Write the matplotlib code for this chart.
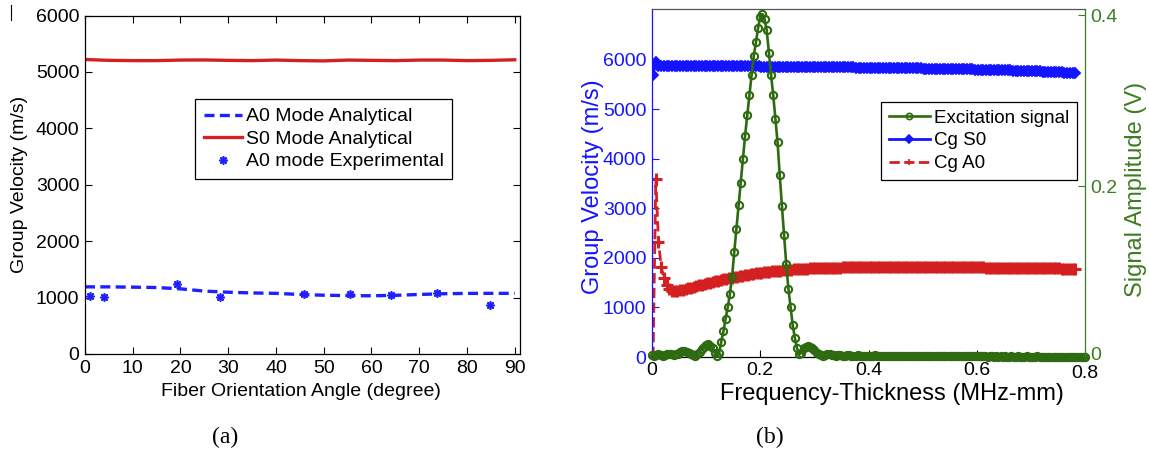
import numpy as np
import matplotlib
matplotlib.use("Agg")
import matplotlib.pyplot as plt
from matplotlib.lines import Line2D
from matplotlib.transforms import ScaledTranslation

plt.rcParams['font.family'] = ['Liberation Sans', 'DejaVu Sans']

# ---------------- Panel (a) data ----------------
angle_grid = [0, 5, 10, 15, 20, 25, 30, 35, 40, 45, 50, 55, 60, 65, 70, 75, 80, 85, 90]
s0_analytical = [5220, 5205, 5200, 5200, 5210, 5212, 5205, 5200, 5210, 5200,
                 5195, 5210, 5205, 5200, 5210, 5210, 5200, 5205, 5215]
a0_analytical = [1190, 1190, 1185, 1178, 1155, 1115, 1095, 1082, 1075, 1055,
                 1042, 1035, 1032, 1040, 1055, 1068, 1074, 1075, 1075]
exp_angle = [1.0, 3.9, 19.2, 28.3, 45.9, 55.5, 64.0, 73.8, 84.9]
exp_a0 = [1027, 1010, 1248, 1015, 1065, 1062, 1040, 1074, 867]

# ---------------- Panel (b) data ----------------
fd_step_vel = 0.005          # sampling step of the dispersion curves (MHz-mm)
fd_start_vel = 0.002
cg_s0 = [5700, 5965, 5885,
         5884, 5884, 5883, 5883, 5882, 5882, 5881, 5881, 5880, 5880, 5879, 5879, 5878, 5878, 5877, 5877, 5876,
         5875, 5875, 5874, 5874, 5873, 5873, 5872, 5872, 5871, 5871, 5870, 5870, 5869, 5869, 5868, 5868, 5867, 5867, 5866, 5866,
         5865, 5865, 5864, 5864, 5863, 5863, 5862, 5862, 5861, 5861, 5860, 5860, 5859, 5859, 5858, 5858, 5857, 5857, 5856, 5856,
         5855, 5854, 5854, 5853, 5852, 5851, 5851, 5850, 5849, 5848, 5848, 5847, 5846, 5846, 5845, 5844, 5844, 5843, 5842, 5842,
         5841, 5840, 5839, 5838, 5838, 5837, 5836, 5835, 5834, 5833, 5833, 5832, 5831, 5830, 5829, 5828, 5828, 5827, 5826, 5825,
         5824, 5823, 5822, 5821, 5820, 5819, 5818, 5817, 5816, 5815, 5814, 5813, 5812, 5811, 5810, 5809, 5808, 5806, 5805, 5804,
         5803, 5801, 5800, 5798, 5797, 5795, 5794, 5792, 5791, 5789, 5788, 5786, 5785, 5783, 5782, 5780, 5779, 5777, 5776, 5775,
         5773, 5771, 5768, 5766, 5763, 5761, 5758, 5756, 5753, 5751, 5748, 5746, 5743, 5741, 5739, 5737, 5735]
cg_a0 = [0, 3600, 2330, 1825, 1590, 1455, 1380, 1342, 1330, 1335,
         1347, 1360, 1374, 1388, 1402, 1416, 1430, 1444, 1458, 1472,
         1486, 1500, 1514, 1527, 1540, 1553, 1566, 1578, 1590, 1602,
         1613, 1624, 1635, 1645, 1655, 1664, 1673, 1681, 1689, 1697,
         1704, 1711, 1717, 1723, 1729, 1735, 1740, 1745, 1750, 1755,
         1759, 1764, 1768, 1772, 1775, 1778, 1781, 1784, 1787, 1789,
         1791, 1793, 1795, 1797, 1799, 1801, 1803, 1804, 1805, 1806,
         1807, 1808, 1809, 1810, 1811, 1812, 1813, 1813, 1814, 1814,
         1815, 1815, 1815, 1816, 1816, 1816, 1816, 1816, 1816, 1816,
         1816, 1816, 1816, 1815, 1815, 1815, 1815, 1815, 1815, 1815,
         1814, 1814, 1814, 1814, 1813, 1813, 1813, 1813, 1812, 1812,
         1812, 1811, 1811, 1811, 1810, 1810, 1810, 1809, 1809, 1808,
         1808, 1807, 1807, 1806, 1806, 1805, 1805, 1804, 1804, 1803,
         1802, 1802, 1801, 1800, 1800, 1799, 1798, 1797, 1797, 1796,
         1795, 1794, 1794, 1793, 1792, 1791, 1790, 1790, 1789, 1788,
         1787, 1786, 1785, 1784, 1783, 1782, 1781]

fd_step_exc = 0.004          # sampling step of the excitation spectrum
excitation = [
    0.002, 0.001, 0.002, 0.003, 0.002, 0.001, 0.002, 0.003, 0.003, 0.003,
    0.002, 0.003, 0.004, 0.006, 0.007, 0.007, 0.006, 0.005, 0.004, 0.002,
    0.001, 0.003, 0.006, 0.009, 0.012, 0.014, 0.015, 0.013, 0.010, 0.005,
    0.001, 0.005, 0.018, 0.030, 0.045, 0.058, 0.074, 0.094, 0.123, 0.150,
    0.178, 0.204, 0.232, 0.259, 0.283, 0.307, 0.330, 0.352, 0.368, 0.385,
    0.398, 0.401, 0.395, 0.382, 0.356, 0.330, 0.306, 0.278, 0.251, 0.213,
    0.177, 0.143, 0.109, 0.080, 0.058, 0.037, 0.022, 0.010, 0.003, 0.005,
    0.010, 0.012, 0.013, 0.012, 0.010, 0.008, 0.005, 0.003, 0.002, 0.001,
    0.002, 0.003, 0.003, 0.002, 0.002, 0.001, 0.002, 0.002, 0.001, 0.001,
    0.002, 0.002, 0.001, 0.001, 0.001, 0.002, 0.001, 0.001, 0.001, 0.001,
    0.001, 0.001, 0.001, 0.002, 0.001, 0.001, 0.001, 0.001, 0.001, 0.001,
    0.001, 0.001, 0.001, 0.001, 0.001, 0.001, 0.001, 0.001, 0.001, 0.001,
    0.001, 0.001, 0.001, 0.001, 0.001, 0.001, 0.001, 0.001, 0.001, 0.001,
    0.001, 0.001, 0.001, 0.001, 0.001, 0.001, 0.001, 0.001, 0.001, 0.001,
    0.001, 0.001, 0.001, 0.001, 0.001, 0.001, 0.001, 0.001, 0.001, 0.001,
    0.001, 0.001, 0.001, 0.001, 0.001, 0.000, 0.001, 0.001, 0.000, 0.001,
    0.000, 0.001, 0.000, 0.001, 0.000, 0.000, 0.001, 0.000, 0.000, 0.001,
    0.000, 0.000, 0.000, 0.001, 0.000, 0.000, 0.000, 0.000, 0.001, 0.000,
    0.000, 0.000, 0.000, 0.000, 0.000, 0.000, 0.000, 0.000, 0.000, 0.000,
    0.000, 0.000, 0.000, 0.000, 0.000, 0.000, 0.000, 0.000, 0.000, 0.000,
    0.000]

fd_vel = fd_start_vel + fd_step_vel * np.arange(len(cg_s0))
fd_exc = fd_step_exc * np.arange(len(excitation))

# ---------------- styling ----------------
W, H = 1149, 458
fig = plt.figure(figsize=(W / 100, H / 100), dpi=100)

def px_axes(x0, y0, x1, y1):
    return [x0 / W, 1 - y1 / H, (x1 - x0) / W, (y1 - y0) / H]

RED = '#d42020'
BLUE_A = '#1f1fff'
BLUE_B = '#1414ff'
GREEN = '#2e6a10'
GREEN_AX = '#3d7d20'

# ---------------- Panel (a) ----------------
axa = fig.add_axes(px_axes(85, 15.5, 519.5, 354))
axa.plot(angle_grid, a0_analytical, color=BLUE_A, lw=2.4, linestyle=(0, (3, 1.6)),
         label='A0 Mode Analytical')
axa.plot(angle_grid, s0_analytical, color=RED, lw=2.4, label='S0 Mode Analytical')
axa.plot(exp_angle, exp_a0, linestyle='none', marker=(8, 2, 0), ms=6, mew=1.2,
         color=BLUE_A, label='A0 mode Experimental')
axa.set_xlim(0, 91)
axa.set_ylim(0, 6000)
axa.set_xticks(range(0, 91, 10))
axa.set_yticks(range(0, 6001, 1000))
axa.tick_params(direction='in', length=5, width=0.8, top=True, right=True,
                labelsize=14, pad=4)
for s in axa.spines.values():
    s.set_linewidth(0.9)
axa.set_xlabel('Fiber Orientation Angle (degree)', fontsize=14)
axa.set_ylabel('Group Velocity (m/s)', fontsize=14)
axa.xaxis.label.set_va('center')
axa.xaxis.set_label_coords(0.497, -0.112)
axa.yaxis.label.set_va('center')
axa.yaxis.set_label_coords(-0.150, 0.502)
axa.legend(loc='upper left', bbox_to_anchor=(195 / W, 1 - 99 / H),
           bbox_transform=fig.transFigure, borderaxespad=0, fontsize=14,
           handlelength=1.95, handletextpad=0.2, borderpad=0.45, labelspacing=0.25,
           fancybox=False, edgecolor='black', framealpha=1).get_frame().set_linewidth(0.9)

# ---------------- Panel (b) ----------------
axb = fig.add_axes(px_axes(652, 9.3, 1085, 357))
axb.plot(fd_vel, cg_a0, color=RED, linestyle='--', lw=2.0, marker='+', ms=8, mew=2.2,
         label='Cg A0')
axb.plot(fd_vel, cg_s0, color=BLUE_B, lw=2.0, marker='D', ms=5.0, mew=1.3, mfc=BLUE_B,
         label='Cg S0')
axb.set_xlim(0, 0.8)
axb.set_ylim(0, 7020)
axb.set_xticks([0, 0.2, 0.4, 0.6, 0.8])
axb.set_xticklabels(['0', '0.2', '0.4', '0.6', '0.8'])
axb.set_yticks(range(0, 6001, 1000))
axb.tick_params(axis='x', direction='in', length=5, width=0.8, labelsize=14, pad=3.5)
axb.tick_params(axis='y', direction='in', length=5, width=0.8, labelsize=14, pad=4,
                colors=BLUE_B, right=True)
axb.spines['left'].set_color(BLUE_B)
axb.spines['right'].set_visible(False)
axb.spines['top'].set_color('#555555')
for s in axb.spines.values():
    s.set_linewidth(0.9)
axb.set_xlabel('Frequency-Thickness (MHz-mm)', fontsize=17)
axb.set_ylabel('Group Velocity (m/s)', fontsize=17, color=BLUE_B)
axb.xaxis.label.set_va('center')
axb.xaxis.set_label_coords(0.554, -0.107)
axb.yaxis.label.set_va('center')
axb.yaxis.set_label_coords(-0.137, 0.49)

axc = axb.twinx()
exc_line, = axc.plot(fd_exc, excitation, color=GREEN, lw=1.9, marker='o', ms=5.2,
                     mew=1.5, mfc='none', clip_on=False, label='Excitation signal')
axc.set_ylim(0, 0.4067)
axc.set_yticks([0, 0.2, 0.4])
axc.set_yticklabels(['0', '0.2', '0.4'])
axc.tick_params(axis='y', direction='in', length=5, width=0.8, labelsize=14, pad=4,
                colors=GREEN_AX)
axc.spines['right'].set_color(GREEN_AX)
axc.spines['right'].set_linewidth(0.9)
for k in ('left', 'top', 'bottom'):
    axc.spines[k].set_visible(False)
axc.set_ylabel('Signal Amplitude (V)', fontsize=17, color=GREEN_AX)
axc.yaxis.label.set_va('center')
axc.yaxis.set_label_coords(1.118, 0.483)

# keep the corner labels "0.8" and right-hand "0" from touching
lab08 = axb.xaxis.get_major_ticks()[-1].label1
lab08.set_transform(lab08.get_transform() + ScaledTranslation(0, -3 / 100, fig.dpi_scale_trans))
lab0r = axc.yaxis.get_major_ticks()[0].label2
lab0r.set_transform(lab0r.get_transform() + ScaledTranslation(0, 4 / 100, fig.dpi_scale_trans))

h1, l1 = axb.get_legend_handles_labels()
handles = [exc_line, h1[1], h1[0]]
labels = ['Excitation signal', 'Cg S0', 'Cg A0']
leg = axc.legend(handles, labels, loc='upper left', bbox_to_anchor=(881 / W, 1 - 102 / H),
                 bbox_transform=fig.transFigure, borderaxespad=0, fontsize=13.5,
                 handlelength=2.2, handletextpad=0.25, borderpad=0.4, labelspacing=0.3,
                 fancybox=False, edgecolor='black', framealpha=1)
leg.get_frame().set_linewidth(0.9)
for lh in leg.legend_handles:
    lh.set_markersize(4.5)
    lh.set_markeredgewidth(1.2)

# ---------------- sub-captions ----------------
fig.text(225 / W, 1 - 437 / H, '(a)', ha='center', va='center', fontsize=17,
         family=['Liberation Serif', 'DejaVu Serif'])
fig.text(770 / W, 1 - 437 / H, '(b)', ha='center', va='center', fontsize=17,
         family=['Liberation Serif', 'DejaVu Serif'])

fig.add_artist(Line2D([11 / W, 11 / W], [1 - 5 / H, 1 - 20 / H], color='black', lw=0.8,
                      transform=fig.transFigure))

fig.savefig('out.png', dpi=100)
